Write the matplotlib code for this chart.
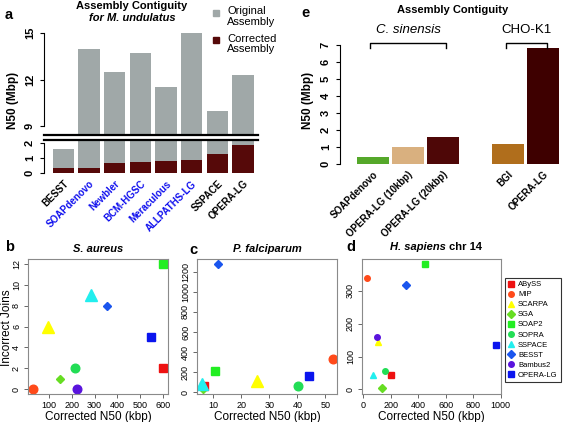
import numpy as np
import matplotlib
matplotlib.use('Agg')
import matplotlib.pyplot as plt
from matplotlib.lines import Line2D

plt.rcParams['font.family'] = ['Liberation Sans', 'DejaVu Sans']

# panel a data
names_a = ['BESST', 'SOAPdenovo', 'Newbler', 'BCM-HGSC', 'Meraculous',
           'ALLPATHS-LG', 'SSPACE', 'OPERA-LG']
orig_a = [1.6, 14.0, 12.5, 13.7, 11.5, 15.0, 10.0, 12.3]
corr_a = [0.31, 0.35, 0.64, 0.75, 0.80, 0.87, 1.27, 1.87]
blue_a = [False, True, True, True, True, True, False, False]

# panel e data
names_e = ['SOAPdenovo', 'OPERA-LG (10kbp)', 'OPERA-LG (20kbp)', 'BGI', 'OPERA-LG']
vals_e = [0.4, 1.0, 1.6, 1.2, 6.8]
cols_e = ['#55a82a', '#d9b07f', '#4e0707', '#b06e1c', '#3e0000']

# panels b, c, d: scaffolders
tools = ['ABySS', 'MIP', 'SCARPA', 'SGA', 'SOAP2', 'SOPRA', 'SSPACE', 'BESST',
         'Bambus2', 'OPERA-LG']
marks = ['s', 'o', '^', 'D', 's', 'o', '^', 'D', 'o', 's']
tcols = ['#ee1111', '#ff4a1a', '#ffff00', '#66dd22', '#22ee22', '#22dd55',
         '#22eeee', '#1a55ee', '#5a14dd', '#0a14ee']
msize = {'s': 6.2, 'o': 6.2, '^': 8.5, 'D': 4.2}

b_x = [600, 28, 95, 150, 600, 213, 286, 355, 224, 549]
b_y = [2, 0, 6, 1, 12, 2, 9, 8, 0, 5]
c_x = [6.7, 52.6, 25.7, 6.4, 10.8, 40.1, 6.1, 11.7, np.nan, 44.0]
c_y = [60, 330, 109, 33, 208, 60, 83, 1276, np.nan, 159]
d_x = [200, 27, 111, 140, 449, 159, 70, 312, 104, 964]
d_y = [45, 340, 143, 5, 382, 57, 43, 319, 159, 136]

W, H = 567, 422
fig = plt.figure(figsize=(W / 100, H / 100), dpi=100)


def box(l, t, r, b):
    return [l / W, 1 - b / H, (r - l) / W, (b - t) / H]


def fx(x):
    return x / W


def fy(y):
    return 1 - y / H


def rot_yticks(ax, size, bold):
    for lb in ax.get_yticklabels():
        lb.set_rotation(90)
        lb.set_va('center')
        lb.set_fontsize(size)
        if bold:
            lb.set_fontweight('bold')


gray = '#a0a8a8'
dark = '#560909'

# ---- panel a ----
pos_a = np.arange(len(names_a))
ax_up = fig.add_axes(box(44, 33, 258, 135))
ax_lo = fig.add_axes(box(44, 140, 258, 173))
for ax in (ax_up, ax_lo):
    ax.bar(pos_a, orig_a, width=0.83, color=gray)
    ax.set_xlim(-0.75, 7.58)
    ax.spines['right'].set_visible(False)
    ax.tick_params(axis='y', length=3, width=0.8)
ax_lo.bar(pos_a, corr_a, width=0.83, color=dark)
ax_up.set_ylim(8.42, 15.0)
ax_lo.set_ylim(0, 2.22)
ax_up.spines['top'].set_visible(False)
ax_up.spines['bottom'].set_linewidth(1.6)
ax_up.spines['left'].set_bounds(9, 15)
ax_up.set_xticks([])
ax_up.set_yticks([9, 12, 15])
ax_lo.spines['bottom'].set_visible(False)
ax_lo.spines['top'].set_linewidth(1.6)
ax_lo.spines['left'].set_bounds(0, 2)
ax_lo.set_yticks([0, 1, 2])
rot_yticks(ax_up, 8, True)
rot_yticks(ax_lo, 8, True)
ax_lo.set_xticks(pos_a)
ax_lo.set_xticklabels(names_a, rotation=45, ha='right', va='top',
                      rotation_mode='anchor', fontsize=7, fontweight='bold')
for lb, b in zip(ax_lo.get_xticklabels(), blue_a):
    lb.set_color('#1010ee' if b else 'black')
ax_lo.tick_params(axis='x', length=0, pad=4)

fig.text(fx(13), fy(100), 'N50 (Mbp)', rotation=90, ha='center', va='center',
         fontsize=8.5, fontweight='bold')
fig.text(fx(132), fy(6), 'Assembly Contiguity', ha='center', va='center',
         fontsize=8, fontweight='bold')
fig.text(fx(132), fy(18), 'for M. undulatus', ha='center', va='center',
         fontsize=8, fontweight='bold', fontstyle='italic')
fig.text(fx(5), fy(15), 'a', ha='left', va='center', fontsize=10.5, fontweight='bold')
for yy, c, t in [(12.5, gray, 'Original\nAssembly'), (40, dark, 'Corrected\nAssembly')]:
    fig.add_artist(Line2D([fx(216)], [fy(yy)], marker='s', ms=4.5, color=c,
                          transform=fig.transFigure))
    fig.text(fx(227), fy(yy - 6.5), t, ha='left', va='top', fontsize=8,
             linespacing=1.1)

# ---- panel e ----
pos_e = [0, 1, 2, 3.85, 4.85]
ax_e = fig.add_axes(box(340, 45, 562, 164))
ax_e.bar(pos_e, vals_e, width=0.91, color=cols_e)
ax_e.set_xlim(-0.94, 5.4)
ax_e.set_ylim(0, 7)
for s in ('top', 'right', 'bottom'):
    ax_e.spines[s].set_visible(False)
ax_e.spines['left'].set_bounds(0, 7)
ax_e.set_yticks(range(8))
ax_e.tick_params(axis='y', length=3, width=0.8)
rot_yticks(ax_e, 8, True)
ax_e.set_xticks(pos_e)
ax_e.set_xticklabels(names_e, rotation=45, ha='right', va='top',
                     rotation_mode='anchor', fontsize=7, fontweight='bold')
ax_e.tick_params(axis='x', length=0, pad=4)
for x0, x1, lab, sty in [(pos_e[0] - 0.08, pos_e[2] + 0.1, 'C. sinensis', 'italic'),
                         (pos_e[3] - 0.06, pos_e[4] + 0.12, 'CHO-K1', 'normal')]:
    ax_e.plot([x0, x0, x1, x1], [6.8, 7.12, 7.12, 6.8], color='black', lw=1,
              clip_on=False)
    ax_e.text((x0 + x1) / 2, 7.9, lab, ha='center', va='center', fontsize=9.5,
              fontstyle=sty, clip_on=False)
fig.text(fx(308), fy(100), 'N50 (Mbp)', rotation=90, ha='center', va='center',
         fontsize=8.5, fontweight='bold')
fig.text(fx(453), fy(10), 'Assembly Contiguity', ha='center', va='center',
         fontsize=8, fontweight='bold')
fig.text(fx(305), fy(13), 'e', ha='center', va='center', fontsize=10.5,
         fontweight='bold')


# ---- panels b, c, d ----
def scatter_panel(rect, xs, ys, xlim, ylim, xt, yt):
    ax = fig.add_axes(box(*rect))
    for i in range(len(tools)):
        ax.plot(xs[i], ys[i], marker=marks[i], ms=msize[marks[i]], color=tcols[i],
                ls='none', label=tools[i])
    ax.set_xlim(*xlim)
    ax.set_ylim(*ylim)
    ax.set_xticks(xt)
    ax.set_yticks(yt)
    for s in ax.spines.values():
        s.set_color('#8a8a8a')
        s.set_linewidth(0.8)
    ax.tick_params(length=3, width=0.7, color='#666666', labelsize=6.5, pad=2)
    rot_yticks(ax, 6.5, False)
    ax.set_xlabel('Corrected N50 (kbp)', fontsize=8.5, labelpad=1)
    return ax


ax_b = scatter_panel((28, 259, 168, 394), b_x, b_y, (8, 622), (-0.45, 12.45),
                     range(100, 601, 100), range(0, 13, 2))
fig.text(fx(7), fy(328), 'Incorrect Joins', rotation=90, ha='center', va='center',
         fontsize=8.5)
ax_c = scatter_panel((197, 259, 337, 394), c_x, c_y, (4.3, 54.1), (-17, 1326),
                     range(10, 51, 10), range(0, 1201, 200))
ax_d = scatter_panel((362, 259, 501, 394), d_x, d_y, (-8, 1002), (-14, 397),
                     range(0, 1001, 200), range(0, 301, 100))

ax_b.set_title('S. aureus', fontsize=8, fontweight='bold', fontstyle='italic', pad=5)
ax_c.set_title('P. falciparum', fontsize=8, fontweight='bold', fontstyle='italic',
               pad=5)
t1 = fig.text(fx(390), fy(250), 'H. sapiens', ha='left', va='baseline', fontsize=8,
              fontweight='bold', fontstyle='italic')
ax_d.annotate(' chr 14', xy=(1, fy(250)), xycoords=(t1, 'figure fraction'),
              ha='left', va='baseline', fontsize=8, fontweight='bold',
              annotation_clip=False)
fig.text(fx(5), fy(247), 'b', ha='left', va='center', fontsize=10.5, fontweight='bold')
fig.text(fx(193), fy(250), 'c', ha='center', va='center', fontsize=10.5,
         fontweight='bold')
fig.text(fx(351), fy(247), 'd', ha='center', va='center', fontsize=10.5,
         fontweight='bold')

hs, ls = ax_d.get_legend_handles_labels()
for h in hs:
    h.set_markersize(4)
leg = ax_d.legend(hs, ls, loc='upper left', bbox_to_anchor=(fx(505), fy(278)),
                  bbox_transform=fig.transFigure, fontsize=5.5, frameon=True,
                  fancybox=False, edgecolor='black', handlelength=0.8,
                  handletextpad=0.5, labelspacing=0.35, borderpad=0.4,
                  borderaxespad=0)
leg.get_frame().set_linewidth(0.8)

fig.savefig('out.png', dpi=100)
